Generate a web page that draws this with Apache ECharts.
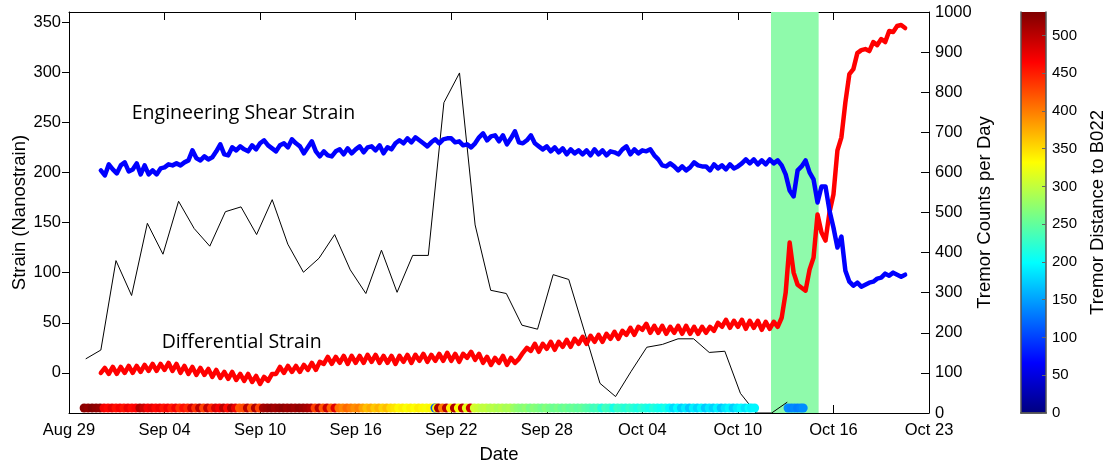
<!DOCTYPE html>
<html>
<head>
<meta charset="utf-8">
<script src="https://cdn.jsdelivr.net/npm/echarts@6/dist/echarts.min.js"></script>
<style>
  html, body { margin: 0; padding: 0; background: #fff; }
  #chart { width: 1107px; height: 464px; }
</style>
</head>
<body>
<div id="chart"></div>
<script>
// ---- Date axis (days since Aug 29) ----
const dateTickLabels = ['Aug 29', 'Sep 04', 'Sep 10', 'Sep 16', 'Sep 22', 'Sep 28', 'Oct 04', 'Oct 10', 'Oct 16', 'Oct 23'];
const strainTicks = [0, 50, 100, 150, 200, 250, 300, 350];
const distanceTicks = [0, 50, 100, 150, 200, 250, 300, 350, 400, 450, 500];

// ---- Strainmeter record, sampled every 6 hours from day 2 ----
const strainStartDay = 2;
const strainStepDays = 0.25;

const differentialStrain = [
  0, 5, -1, 6,   -1, 6, 0, 7,   0, 7, 1, 8,   2, 9, 2, 9,   3, 10, 2, 9,
  0, 7, -1, 6,   -2, 5, -2, 4,   -4, 3, -5, 1,   -6, 1, -7, -1,   -8, -1, -9, -3,
  -11, -4, -8, -1,   -1, 6, 0, 7,   1, 7, 1, 8,   3, 10, 3, 11,   9, 16, 9, 16,
  10, 17, 9, 17,   10, 17, 10, 18,   11, 18, 10, 17,   10, 17, 9, 17,   11, 18, 10, 18,
  12, 19, 11, 18,   12, 19, 12, 20,   12, 19, 11, 19,   15, 21, 13, 19,   10, 16, 8, 15,
  10, 17, 8, 15,   10, 14, 20, 25,   22, 29, 21, 29,   24, 31, 23, 31,   26, 33, 26, 34,
  29, 36, 29, 37,   31, 38, 31, 39,   34, 41, 34, 42,   38, 45, 38, 46,   43, 49, 40, 47,
  40, 47, 39, 46,   40, 47, 39, 47,   39, 46, 39, 46,   40, 46, 42, 50,   46, 53, 45, 52,
  46, 53, 44, 52,   45, 52, 43, 51,   44, 51, 46, 55,   80, 130, 100, 88,   85, 82, 103, 115,
  158, 140, 132, 160,   178, 222, 235, 270,   298, 303, 319, 322,   323, 321, 330, 327,
  333, 330, 341, 340,   346, 347, 344
];

const shearStrain = [
  202, 197, 208, 203,   199, 207, 210, 201,   203, 209, 198, 207,   198, 202, 198, 204,
  205, 208, 207, 209,   207, 210, 212, 222,   214, 212, 216, 213,   215, 221, 228, 218,
  217, 225, 222, 226,   223, 221, 227, 223,   229, 232, 227, 224,   221, 227, 229, 225,
  233, 229, 226, 219,   225, 231, 221, 216,   221, 217, 216, 221,   223, 218, 224, 219,
  223, 226, 220, 225,   226, 222, 227, 219,   225, 223, 229, 232,   229, 234, 230, 235,
  232, 229, 226, 230,   233, 229, 233, 234,   234, 230, 231, 227,   228, 225, 229, 235,
  239, 232, 236, 237,   231, 237, 228, 234,   241, 230, 229, 232,   237, 229, 226, 223,
  226, 221, 225, 220,   224, 218, 223, 219,   222, 218, 222, 217,   223, 218, 222, 217,
  221, 220, 218, 223,   226, 218, 223, 219,   222, 221, 223, 217,   213, 207, 206, 209,
  206, 202, 206, 202,   205, 210, 207, 206,   206, 202, 208, 204,   207, 203, 208, 204,
  206, 209, 213, 209,   213, 208, 212, 208,   213, 209, 212, 207,   198, 182, 176, 202,
  206, 212, 200, 193,   170, 186, 186, 162,   145, 125, 136, 102,   91, 87, 90, 86,
  88, 90, 91, 94,   95, 99, 97, 100,   98, 96, 98
];

// ---- Daily tremor counts ----
const tremorCountDay = [
  1.05, 2.0, 2.95, 3.93, 4.92, 5.9, 6.88, 7.86, 8.84, 9.82, 10.8, 11.78, 12.76, 13.74,
  14.72, 15.7, 16.68, 17.66, 18.64, 19.62, 20.6, 21.58, 22.56, 23.54, 24.52, 25.5, 26.48,
  27.46, 28.44, 29.42, 30.4, 31.38, 32.36, 33.34, 34.32, 35.3, 36.28, 37.26, 38.24, 39.22,
  40.2, 41.18, 42.16, 43.14, 44.12, 45.1
];
const tremorCount = [
  135, 157, 380, 293, 473, 396, 528, 460, 416, 502, 514, 445, 532, 421,
  351, 386, 445, 357, 298, 406, 301, 393, 393, 774, 848, 469, 306,
  298, 219, 209, 345, 333, 204, 74, 41, 104, 164, 171, 185, 185,
  151, 154, 49, 0, 0, 27
];

// ---- Individual tremor events: time (days) and distance to B022 (km) ----
const tremorDay = [
  0.95, 1.2, 1.45, 1.7, 1.95, 2.2, 2.45, 2.7, 2.95, 3.2, 3.45, 3.7, 3.95, 4.2, 4.45, 4.7,
  4.95, 5.2, 5.45, 5.7, 5.95, 6.2, 6.45, 6.7, 6.95, 7.2, 7.45, 7.7, 7.95, 8.2, 8.45, 8.7,
  8.95, 9.2, 9.45, 9.7, 9.95, 10.2, 10.45, 10.7, 10.95, 11.2, 11.45, 11.7, 11.95, 12.2,
  12.45, 12.7, 12.95, 13.2, 13.45, 13.7, 13.95, 14.2, 14.45, 14.7, 14.95, 15.2,
  15.45, 15.7, 15.95, 16.2, 16.45, 16.7, 16.95, 17.2, 17.45, 17.7, 17.95, 18.2,
  18.45, 18.7, 18.95, 19.2, 19.45, 19.7, 19.95, 20.2, 20.45, 20.7, 20.95, 21.2, 21.45,
  21.7, 21.95, 22.2, 22.45, 22.7, 22.9, 22.98, 23.08, 23.2, 23.45, 23.7, 23.95, 24.2,
  24.45, 24.7, 24.95, 25.2, 25.45, 25.7, 25.95, 26.2, 26.45, 26.7, 26.95, 27.2, 27.45, 27.7,
  27.95, 28.2, 28.45, 28.7, 28.95, 29.2, 29.45, 29.7, 29.95, 30.2, 30.45, 30.7, 30.95,
  31.2, 31.45, 31.7, 31.95, 32.2, 32.45, 32.7, 32.95, 33.2, 33.45, 33.7, 33.95, 34.2, 34.45,
  34.7, 34.95, 35.2, 35.45, 35.7, 35.95, 36.2, 36.45, 36.7, 36.95, 37.2, 37.45,
  37.7, 37.95, 38.2, 38.45, 38.7, 38.95, 39.2, 39.45, 39.7, 39.95, 40.2, 40.45, 40.7, 40.95,
  41.2, 41.45, 41.7, 41.95, 42.2, 42.45, 42.7, 42.85, 43.05,
  45.15, 45.35, 45.55, 45.75, 45.95, 46.1
];
const tremorDistance = [
  525, 520, 528, 522, 519, 470, 462, 475, 458, 468, 455, 472, 460, 465, 505, 490,
  470, 478, 462, 472, 455, 468, 450, 470, 440, 458, 445, 490, 440, 500, 430, 495,
  445, 485, 470, 500, 460, 505, 475, 420, 425, 500, 420, 505, 430, 510,
  515, 520, 512, 518, 522, 515, 519, 513, 520, 516, 510, 505,
  430, 500, 420, 490, 415, 480, 405, 395, 410, 400, 390, 398,
  380, 365, 375, 360, 370, 355, 365, 350, 345, 335, 340, 330, 338,
  332, 340, 335, 328, 336, 330, 110, 335, 510, 400, 500, 340, 505,
  330, 500, 320, 490, 310, 305, 298, 300, 292, 296, 288, 294, 286, 290,
  280, 272, 268, 275, 262, 270, 265, 258, 268, 260, 255, 262, 252,
  258, 250, 255, 248, 252, 245, 240, 232, 238, 215, 235, 228, 210, 230,
  225, 218, 228, 220, 212, 222, 215, 208, 218, 210, 205, 212,
  195, 180, 198, 175, 190, 170, 192, 178, 195, 172, 188, 176, 194, 170,
  185, 195, 175, 190, 198, 185, 200, 192, 195,
  140, 135, 138, 132, 136, 140
];

// Onset window of the slow-slip episode (days)
const slipWindow = [44.08, 47.07];

// ---- Scales / styling ----
const STRAIN_MIN = -40, STRAIN_MAX = 360;
const DIST_MAX = 531;
const TREMOR_ROW = -35;   // strain level of the event row along the bottom
const JET = ['#00007f', '#0000ff', '#007fff', '#00ffff', '#7fff7f', '#ffff00', '#ff7f00', '#ff0000', '#7f0000'];
const AXIS_FONT = 'Liberation Sans, Arial, Helvetica, sans-serif';

const strainTimes = i => strainStartDay + i * strainStepDays;
const redData = differentialStrain.map((v, i) => [strainTimes(i), v]);
const blueData = shearStrain.map((v, i) => [strainTimes(i), v]);
const countData = tremorCount.map((v, i) => [tremorCountDay[i], v]);
const eventData = tremorDistance.map((d, i) => [tremorDay[i], TREMOR_ROW, d]);

const seriesLabels = [
  { text: 'Engineering Shear Strain', day: 3.94, strain: 255.5 },
  { text: 'Differential Strain', day: 5.82, strain: 27.2 }
];

const chart = echarts.init(document.getElementById('chart'), null, { renderer: 'canvas' });

const axisText = { color: '#000', fontFamily: AXIS_FONT, fontSize: 16.5 };
const nameText = { color: '#000', fontFamily: AXIS_FONT, fontSize: 18.5 };
const blackLine = { show: true, onZero: false, lineStyle: { color: '#000', width: 1 } };

const jetGradient = new echarts.graphic.LinearGradient(0, 1, 0, 0,
  JET.map((c, i) => ({ offset: i / (JET.length - 1), color: c })));

chart.setOption({
  animation: false,
  backgroundColor: '#fff',
  grid: [
    { left: 69, top: 12, width: 860, height: 401, containLabel: false, outerBoundsMode: 'none' },
    { left: 1021, top: 12, width: 25, height: 401, containLabel: false, outerBoundsMode: 'none' }
  ],
  xAxis: [
    {
      gridIndex: 0, type: 'value', min: 0, max: 54, interval: 6, position: 'bottom',
      axisLine: blackLine,
      axisTick: { inside: true, length: 8, lineStyle: { color: '#000' } },
      axisLabel: Object.assign({ margin: 9, formatter: v => dateTickLabels[Math.round(v / 6)] }, axisText),
      splitLine: { show: false },
      name: 'Date', nameLocation: 'middle', nameGap: 32, nameMoveOverlap: false, nameTextStyle: nameText
    },
    {
      gridIndex: 0, type: 'value', min: 0, max: 54, interval: 6, position: 'top',
      axisLine: blackLine,
      axisTick: { inside: true, length: 8, lineStyle: { color: '#000' } },
      axisLabel: { show: false }, splitLine: { show: false }
    },
    {
      gridIndex: 1, type: 'category', data: ['bar'], position: 'bottom', z: 5,
      axisLine: { show: true, lineStyle: { color: '#555', width: 1.5 } },
      axisTick: { show: false }, axisLabel: { show: false }, splitLine: { show: false }
    },
    {
      gridIndex: 1, type: 'category', data: ['bar'], position: 'top', z: 5,
      axisLine: { show: true, lineStyle: { color: '#555', width: 1.5 } },
      axisTick: { show: false }, axisLabel: { show: false }, splitLine: { show: false }
    }
  ],
  yAxis: [
    {
      gridIndex: 0, type: 'value', min: STRAIN_MIN, max: STRAIN_MAX, position: 'left',
      axisLine: blackLine,
      axisTick: { show: true, inside: false, length: 7, customValues: strainTicks, lineStyle: { color: '#000' } },
      axisLabel: Object.assign({ margin: 8, customValues: strainTicks }, axisText),
      splitLine: { show: false },
      name: 'Strain (Nanostrain)', nameLocation: 'middle', nameRotate: 90, nameGap: 40,
      nameMoveOverlap: false, nameTextStyle: nameText
    },
    {
      gridIndex: 0, type: 'value', min: 0, max: 1000, interval: 100, position: 'right',
      axisLine: blackLine,
      axisTick: { show: true, inside: true, length: 8, lineStyle: { color: '#000' } },
      axisLabel: Object.assign({ margin: 6, formatter: v => String(v) }, axisText),
      splitLine: { show: false },
      name: 'Tremor Counts per Day', nameLocation: 'middle', nameRotate: 90, nameGap: 46,
      nameMoveOverlap: false, nameTextStyle: nameText
    },
    {
      gridIndex: 1, type: 'value', min: 0, max: DIST_MAX, position: 'right', z: 5,
      axisLine: { show: true, lineStyle: { color: '#555', width: 1.5 } },
      axisTick: { show: true, inside: true, length: 4, customValues: distanceTicks, lineStyle: { color: '#666' } },
      axisLabel: { margin: 6, customValues: distanceTicks, color: '#000', fontFamily: AXIS_FONT, fontSize: 15 },
      splitLine: { show: false },
      name: 'Tremor Distance to B022', nameLocation: 'middle', nameRotate: 90, nameGap: 42,
      nameMoveOverlap: false, nameTextStyle: nameText
    },
    {
      gridIndex: 1, type: 'value', min: 0, max: DIST_MAX, position: 'left', z: 5,
      axisLine: { show: true, lineStyle: { color: '#555', width: 1.5 } },
      axisTick: { show: false }, axisLabel: { show: false }, splitLine: { show: false }
    }
  ],
  visualMap: {
    type: 'continuous', show: false, seriesIndex: 4, dimension: 2,
    min: 0, max: DIST_MAX, inRange: { color: JET }
  },
  series: [
    {
      name: 'slip window', type: 'line', xAxisIndex: 0, yAxisIndex: 0, data: [], z: 1,
      markArea: {
        silent: true, itemStyle: { color: '#8ffaab' },
        data: [[{ xAxis: slipWindow[0] }, { xAxis: slipWindow[1] }]]
      }
    },
    {
      name: 'Tremor counts', type: 'line', xAxisIndex: 0, yAxisIndex: 1, data: countData, z: 2,
      symbol: 'none', lineStyle: { color: '#000', width: 1 }
    },
    {
      name: 'Differential Strain', type: 'line', xAxisIndex: 0, yAxisIndex: 0, data: redData, z: 3,
      symbol: 'none', lineStyle: { color: '#ff0000', width: 4.5, join: 'round', cap: 'round' }
    },
    {
      name: 'Engineering Shear Strain', type: 'line', xAxisIndex: 0, yAxisIndex: 0, data: blueData, z: 3,
      symbol: 'none', lineStyle: { color: '#0000ff', width: 4.5, join: 'round', cap: 'round' }
    },
    {
      name: 'Tremor events', type: 'scatter', xAxisIndex: 0, yAxisIndex: 0, data: eventData, z: 4,
      symbol: 'circle', symbolSize: 9, itemStyle: { opacity: 1 }
    },
    {
      name: 'colorbar', type: 'bar', xAxisIndex: 2, yAxisIndex: 2, data: [DIST_MAX], z: 1,
      barWidth: '100%', itemStyle: { color: jetGradient }, silent: true
    }
  ]
});

// Curve labels anchored in data space
chart.setOption({
  graphic: seriesLabels.map(l => {
    const p = chart.convertToPixel({ xAxisIndex: 0, yAxisIndex: 0 }, [l.day, l.strain]);
    return {
      type: 'text', left: p[0], top: p[1] - 13, silent: true,
      style: { text: l.text, fill: '#000', font: '19.5px "Open Sans", "Noto Sans", sans-serif' }
    };
  })
});
</script>
</body>
</html>
